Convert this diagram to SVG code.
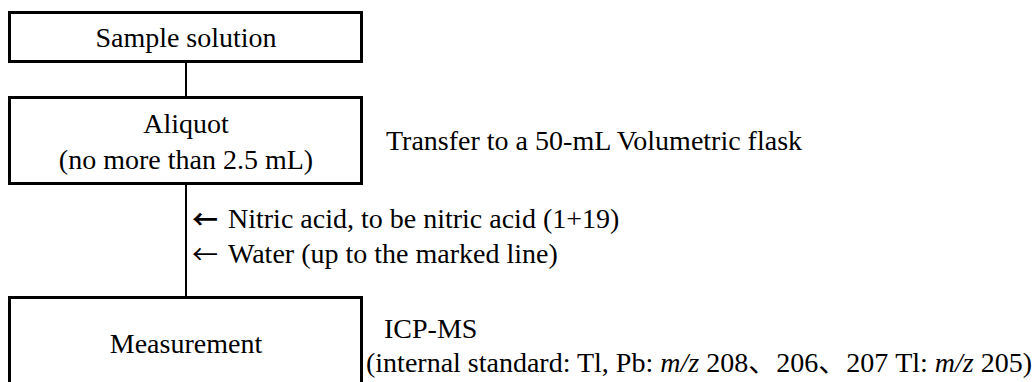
<svg xmlns="http://www.w3.org/2000/svg" width="1034" height="382" viewBox="0 0 1034 382">
<style>
.box{fill:#fff;stroke:#000;stroke-width:3}
.ln{stroke:#000;stroke-width:2;fill:none}
text{font-family:'Liberation Serif','Times New Roman',serif;font-size:28px;fill:#000}
.c{text-anchor:middle}
.j{font-family:'Noto Sans CJK JP',serif}
.a{font-family:'Noto Sans CJK JP',sans-serif;font-size:26px}
</style>
<rect width="1034" height="382" fill="#fff"/>
<g id="connectors">
<line class="ln" x1="186" y1="62" x2="186" y2="97"/>
<line class="ln" x1="186" y1="184" x2="186" y2="297"/>
</g>
<g id="sample">
<rect class="box" x="9.5" y="12.5" width="352" height="49"/>
<text class="c" x="186" y="47">Sample solution</text>
</g>
<g id="aliquot">
<rect class="box" x="9.5" y="97.5" width="352" height="86"/>
<text class="c" x="186" y="133">Aliquot</text>
<text class="c" x="186" y="169">(no more than 2.5 mL)</text>
</g>
<g id="transfer">
<text x="386" y="150">Transfer to a 50-mL Volumetric flask</text>
</g>
<g id="reagents">
<text class="a" x="192" y="229" font-weight="bold">←</text>
<text x="228" y="228">Nitric acid, to be nitric acid (1+19)</text>
<text class="a" x="192" y="264">←</text>
<text x="228" y="263">Water (up to the marked line)</text>
</g>
<g id="measurement">
<rect class="box" x="9.5" y="297.5" width="352" height="100"/>
<text class="c" x="186" y="353">Measurement</text>
</g>
<g id="icpms">
<text x="384" y="338">ICP-MS</text>
<text x="366" y="372">(internal standard: Tl, Pb: <tspan font-style="italic">m/z</tspan> 208<tspan class="j">、</tspan>206<tspan class="j">、</tspan>207  Tl: <tspan font-style="italic">m/z</tspan> 205)</text>
</g>
</svg>
